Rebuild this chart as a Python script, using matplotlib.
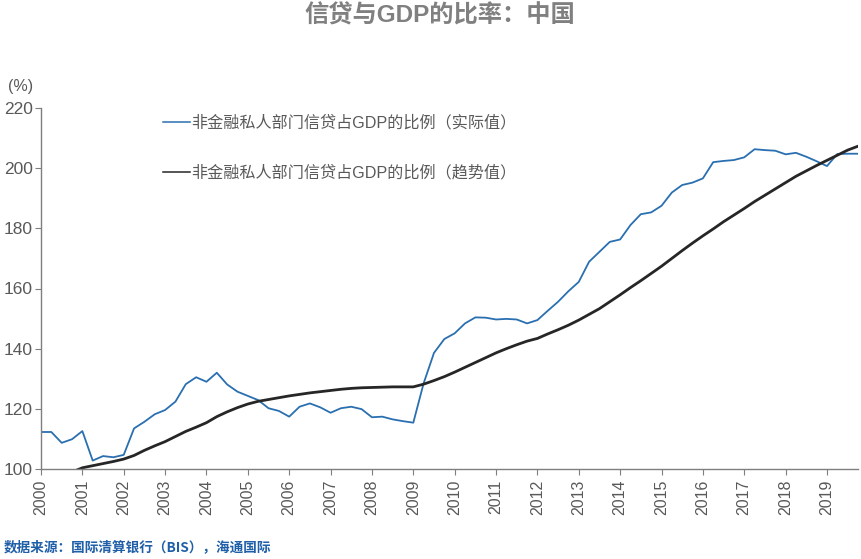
import numpy as np
import matplotlib
matplotlib.use("Agg")
import matplotlib.pyplot as plt

plt.rcParams['font.family'] = ['Liberation Sans', 'Noto Sans CJK SC', 'DejaVu Sans']

# quarterly data, 2000Q1 - 2019Q4
years = [2000 + i / 4 for i in range(80)]

# credit to GDP ratio, actual
actual = [112.3, 112.3, 108.7, 109.9, 112.6, 102.8, 104.3, 103.9,
          104.7, 113.5, 115.7, 118.2, 119.6, 122.4, 128.2, 130.5,
          129.0, 132.0, 128.1, 125.7, 124.3, 122.9, 120.2, 119.3,
          117.4, 120.7, 121.8, 120.5, 118.7, 120.2, 120.7, 119.9,
          117.2, 117.4, 116.5, 115.9, 115.4, 128.5, 138.6, 143.2,
          145.1, 148.4, 150.4, 150.3, 149.7, 149.9, 149.7, 148.4,
          149.5, 152.6, 155.6, 159.1, 162.2, 168.9, 172.2, 175.5,
          176.3, 181.1, 184.7, 185.3, 187.5, 191.9, 194.4, 195.2,
          196.6, 202.0, 202.4, 202.7, 203.6, 206.3, 206.0, 205.8,
          204.6, 205.1, 203.8, 202.3, 200.7, 204.7, 204.8, 204.8]

# credit to GDP ratio, trend
trend = [np.nan, np.nan, np.nan, 99.0, 100.4, 101.1, 101.8, 102.5,
         103.3, 104.5, 106.2, 107.7, 109.1, 110.8, 112.5, 113.9,
         115.4, 117.4, 119.0, 120.4, 121.6, 122.5, 123.1, 123.7,
         124.3, 124.8, 125.3, 125.7, 126.1, 126.5, 126.8, 127.0,
         127.1, 127.2, 127.3, 127.3, 127.3, 128.2, 129.4, 130.7,
         132.2, 133.8, 135.4, 137.0, 138.6, 140.0, 141.3, 142.5,
         143.4, 144.9, 146.3, 147.8, 149.5, 151.4, 153.3, 155.6,
         157.9, 160.3, 162.6, 165.0, 167.4, 170.0, 172.6, 175.1,
         177.5, 179.8, 182.2, 184.4, 186.6, 188.9, 191.0, 193.1,
         195.2, 197.3, 199.1, 200.9, 202.6, 204.3, 206.0, 207.3]

year_ticks = list(range(2000, 2020))
y_ticks = [100, 120, 140, 160, 180, 200, 220]

label_actual = "非金融私人部门信贷占GDP的比例（实际值）"
label_trend = "非金融私人部门信贷占GDP的比例（趋势值）"

fig = plt.figure(figsize=(8.61, 5.59), dpi=100)
ax = fig.add_axes([41 / 861, 1 - 469 / 559, 817 / 861, 361 / 559])

ax.plot(years, actual, color='#2a6fb0', linewidth=1.3, label=label_actual)
ax.plot(years, trend, color='#262626', linewidth=2.0, label=label_trend)

ax.set_xlim(2000, 2019.75)
ax.set_ylim(100, 220)
ax.set_xticks(year_ticks)
ax.set_xticklabels([str(y) for y in year_ticks], rotation=90)
ax.set_yticks(y_ticks)

gray = '#595959'
for side in ['top', 'right']:
    ax.spines[side].set_visible(False)
for side in ['left', 'bottom']:
    ax.spines[side].set_color('#7f7f7f')
    ax.spines[side].set_linewidth(1.0)
ax.tick_params(axis='both', colors='#7f7f7f', labelcolor=gray, labelsize=11.5, length=4, direction='out')
ax.tick_params(axis='y', labelsize=12.5, pad=2)

fig.text(8 / 861, 1 - 86 / 559, "(%)", fontsize=11.5, color=gray, va='center', ha='left')

fig.text(440 / 861, 1 - 16 / 559, "信贷与GDP的比率：中国", fontsize=17.5, fontweight='bold',
         color='#808080', ha='center', va='center')

leg = fig.legend(loc='upper left', bbox_to_anchor=(163 / 861, 1 - 115 / 559), frameon=False,
                 fontsize=11.6, handlelength=1.65, handletextpad=0.1, labelspacing=2.15,
                 borderpad=0, borderaxespad=0)
for t in leg.get_texts():
    t.set_color(gray)
for ln in leg.get_lines():
    ln.set_linewidth(1.1)

fig.text(4 / 861, 1 - 547 / 559, "数据来源：国际清算银行（BIS），海通国际", fontsize=9.8,
         fontweight='bold', color='#1f5fa8', ha='left', va='center',
         family=['Noto Sans CJK SC', 'DejaVu Sans'])

fig.savefig('out.png', dpi=100)
